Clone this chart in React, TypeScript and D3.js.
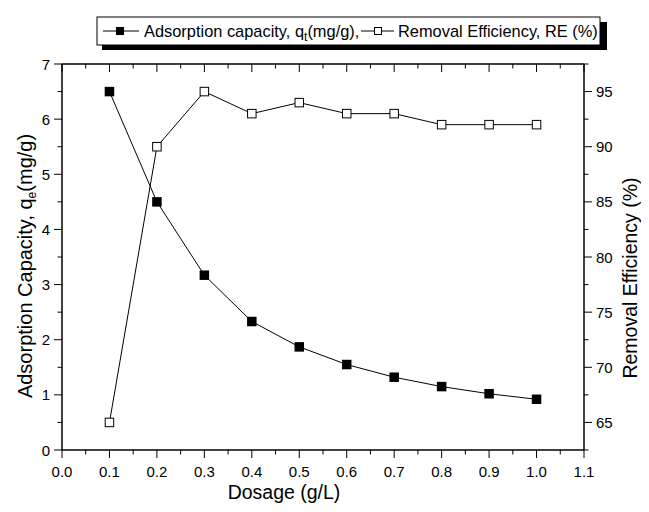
import React from "react";
import * as d3 from "d3";

const dosage = [0.1, 0.2, 0.3, 0.4, 0.5, 0.6, 0.7, 0.8, 0.9, 1.0];
const capacity = [6.5, 4.5, 3.17, 2.33, 1.87, 1.55, 1.32, 1.15, 1.02, 0.92];
const efficiency = [65, 90, 95, 93, 94, 93, 93, 92, 92, 92];
const xTicks = [0, 0.1, 0.2, 0.3, 0.4, 0.5, 0.6, 0.7, 0.8, 0.9, 1.0, 1.1];
const yLeftTicks = [0, 1, 2, 3, 4, 5, 6, 7];
const yRightTicks = [65, 70, 75, 80, 85, 90, 95];

const W = 649, H = 512;
const L = 62, R = 584, T = 64, B = 450;
const FONT = "Liberation Sans, Arial, sans-serif";

export default function App() {
  const x = d3.scaleLinear().domain([0, 1.1]).range([L, R]);
  const yl = d3.scaleLinear().domain([0, 7]).range([B, T]);
  const yr = d3.scaleLinear().domain([62.5, 97.5]).range([B, T]);

  const lineL = d3.line<number>().x((_, i) => x(dosage[i])).y((d) => yl(d));
  const lineR = d3.line<number>().x((_, i) => x(dosage[i])).y((d) => yr(d));

  const xMinor = d3.range(0, 23).map((i) => i * 0.05);
  const ylMinor = d3.range(0, 15).map((i) => i * 0.5);
  const yrMinor = d3.range(0, 15).map((i) => 62.5 + i * 2.5);

  const ms = 9.5;
  return (
    <div style={{ margin: -8 }}>
      <svg width={W} height={H} style={{ display: "block", background: "#fff" }} fontFamily={FONT}>
        {/* legend */}
        <rect x={102} y={22} width={505} height={28} fill="#000" />
        <rect x={97} y={17} width={503} height={28} fill="#fff" stroke="#000" strokeWidth={1} />
        <g fontSize={16.4}>
          <line x1={103} x2={139} y1={31} y2={31} stroke="#000" />
          <rect x={116} y={27} width={8} height={8} fill="#000" />
          <text x={144} y={37}>Adsorption capacity, q<tspan fontSize={12} dy={4}>t</tspan><tspan dy={-4}>(mg/g),</tspan></text>
          <line x1={361} x2={394} y1={31} y2={31} stroke="#000" />
          <rect x={374.5} y={27.5} width={7} height={7} fill="#fff" stroke="#000" />
          <text x={398} y={37}>Removal Efficiency, RE (%)</text>
        </g>

        {/* frame */}
        <line x1={L} x2={R} y1={B} y2={B} stroke="#000" strokeWidth={1.5} />
        <line x1={L} x2={R} y1={T} y2={T} stroke="#000" strokeWidth={1.5} />
        <line x1={L} x2={L} y1={T} y2={B} stroke="#000" strokeWidth={1.5} />
        <line x1={R} x2={R} y1={T} y2={B} stroke="#000" strokeWidth={1.5} />

        {/* x ticks */}
        {xMinor.map((v, i) => {
          const len = i % 2 === 0 ? 8 : 4.5;
          return (
            <g key={"xt" + i}>
              <line x1={x(v)} x2={x(v)} y1={B} y2={B + len} stroke="#000" />
              <line x1={x(v)} x2={x(v)} y1={T} y2={T + len} stroke="#000" />
            </g>
          );
        })}
        {xTicks.map((v) => (
          <text key={"xl" + v} x={x(v)} y={477} fontSize={15} textAnchor="middle">{v.toFixed(1)}</text>
        ))}

        {/* left ticks */}
        {ylMinor.map((v, i) => (
          <line key={"yl" + i} x1={L - (i % 2 === 0 ? 8 : 4.5)} x2={L} y1={yl(v)} y2={yl(v)} stroke="#000" />
        ))}
        {yLeftTicks.map((v) => (
          <text key={"yll" + v} x={L - 12} y={yl(v) + 5.5} fontSize={15} textAnchor="end">{v}</text>
        ))}

        {/* right ticks */}
        {yrMinor.map((v, i) => (
          <line key={"yr" + i} x1={R} x2={R + (v % 5 === 0 ? 8 : 4.5)} y1={yr(v)} y2={yr(v)} stroke="#000" />
        ))}
        {yRightTicks.map((v) => (
          <text key={"yrl" + v} x={R + 12} y={yr(v) + 5.5} fontSize={15} textAnchor="start">{v}</text>
        ))}

        {/* titles */}
        <text x={284} y={499} fontSize={19.5} textAnchor="middle">Dosage (g/L)</text>
        <text transform={`translate(32,266) rotate(-90)`} fontSize={20} textAnchor="middle">
          Adsorption Capacity, q<tspan fontSize={12} dy={4}>e</tspan><tspan dy={-4}>(mg/g)</tspan>
        </text>
        <text transform={`translate(637,278) rotate(-90)`} fontSize={19.5} textAnchor="middle">
          Removal Efficiency (%)
        </text>

        {/* series */}
        <path d={lineL(capacity) || ""} fill="none" stroke="#000" strokeWidth={1} />
        <path d={lineR(efficiency) || ""} fill="none" stroke="#000" strokeWidth={1} />
        {capacity.map((v, i) => (
          <rect key={"c" + i} x={x(dosage[i]) - ms / 2} y={yl(v) - ms / 2} width={ms} height={ms} fill="#000" />
        ))}
        {efficiency.map((v, i) => (
          <rect key={"e" + i} x={x(dosage[i]) - (ms - 1) / 2} y={yr(v) - (ms - 1) / 2} width={ms - 1} height={ms - 1} fill="#fff" stroke="#000" />
        ))}
      </svg>
    </div>
  );
}
